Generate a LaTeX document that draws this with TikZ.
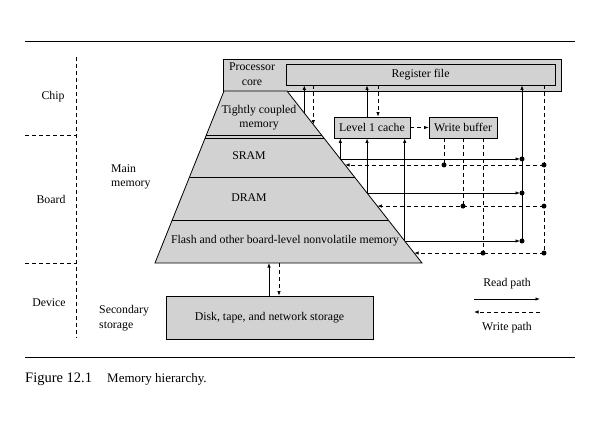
\documentclass[tikz,border=0pt]{standalone}
\usepackage{fontspec}
\setmainfont{Liberation Serif}
\usetikzlibrary{arrows.meta,calc}
\definecolor{boxgray}{RGB}{210,210,210}
\begin{document}
\begin{tikzpicture}[x=1pt,y=-1pt,
  txt/.style={font=\fontsize{11.8}{14.5}\selectfont,inner sep=0pt,align=center},
  box/.style={draw,fill=boxgray,line width=0.8pt,inner sep=0pt},
  rd/.style={line width=0.7pt,-{Latex[length=4.5pt,width=3.4pt]}},
  wr/.style={line width=0.7pt,dash pattern=on 4pt off 3pt,-{Latex[length=4.5pt,width=3.4pt]}},
  rline/.style={line width=0.7pt},
  wline/.style={line width=0.7pt,dash pattern=on 4pt off 3pt},
  dot/.style={circle,fill,inner sep=0pt,minimum size=5pt},
  rule/.style={line width=0.8pt},
  sep/.style={line width=0.6pt,dash pattern=on 4pt off 3pt}]
\useasboundingbox (0,0) rectangle (594,441);

% rules
\coordinate (rtl) at (25,41); \coordinate (rtr) at (575,41);
\coordinate (rbl) at (25,357); \coordinate (rbr) at (575,357);
\draw[rule] (rtl) -- (rtr);
\draw[rule] (rbl) -- (rbr);
\node[anchor=base west,inner sep=0pt,font=\fontsize{14.5}{16}\selectfont] (fig) at (25,382) {Figure 12.1};
\node[anchor=base west,inner sep=0pt,font=\fontsize{13}{15}\selectfont] (cap) at (107,382) {Memory hierarchy.};

% level separators
\coordinate (vt) at (76,57); \coordinate (vb) at (76,338);
\coordinate (h1l) at (25,135); \coordinate (h1r) at (76,135);
\coordinate (h2l) at (25,263); \coordinate (h2r) at (76,263);
\draw[sep] (vt) -- (vb);
\draw[sep] (h1l) -- (h1r);
\draw[sep] (h2l) -- (h2r);
\node[txt] (chip) at (53,97) {Chip};
\node[txt] (board) at (51,199) {Board};
\node[txt] (device) at (49,303) {Device};
\node[txt,anchor=west,align=left] (mainmem) at (111,177) {Main\\memory};
\node[txt,anchor=west,align=left] (secstor) at (99,318) {Secondary\\storage};

% processor core and register file
\node[box,minimum width=338pt,minimum height=32pt] (pc) at (392,75) {};
\node[txt] (pclab) at (252,74) {Processor\\core};
\node[box,minimum width=269pt,minimum height=21pt] (rf) at (420.5,74.5) {};
\node[txt] (rflab) at (rf) {Register file};

% pyramid
\coordinate (tl) at (224,91); \coordinate (tr) at (287,91);
\coordinate (bl) at (155,263); \coordinate (br) at (422,263);
\filldraw[fill=boxgray,line width=0.8pt] (tl) -- (tr) -- (br) -- (bl) -- cycle;
\foreach \t in {0.257,0.273,0.5,0.75}
  \draw[line width=0.8pt] ($(tl)!\t!(bl)$) -- ($(tr)!\t!(br)$);
\node[txt] (tcm) at (259,117.5) {Tightly coupled\\memory};
\node[txt] (sram) at (249,156) {SRAM};
\node[txt] (dram) at (249,198) {DRAM};
\node[txt] (flash) at (285,241) {Flash and other board-level nonvolatile memory};

% caches
\node[box,minimum width=76pt,minimum height=21pt] (l1) at (372,127.5) {};
\node[txt] (l1lab) at (l1) {Level 1 cache};
\node[box,minimum width=68pt,minimum height=21pt] (wb) at (463,127.5) {};
\node[txt] (wblab) at (wb) {Write buffer};

% secondary storage
\node[box,minimum width=207pt,minimum height=43pt] (disk) at (269.5,317.5) {};
\node[txt] (disklab) at (disk) {Disk, tape, and network storage};

% edge points on right side of pyramid
\coordinate (tcmr) at ($(tr)!0.128!(br)$);
\coordinate (tcmw) at ($(tr)!0.195!(br)$);
\coordinate (sr) at ($(tr)!0.395!(br)$);
\coordinate (sw) at ($(tr)!0.430!(br)$);
\coordinate (dr) at ($(tr)!0.593!(br)$);
\coordinate (dw) at ($(tr)!0.669!(br)$);
\coordinate (fr) at ($(tr)!0.872!(br)$);
\coordinate (fw) at ($(tr)!0.942!(br)$);
\coordinate (rbus) at (522,0);
\coordinate (wbus) at (544,0);
\coordinate (wb1) at (444,0);
\coordinate (wb2) at (463,0);
\coordinate (wb3) at (483,0);

% TCM <-> register file
\draw[rd] (tcmr) -- (tcmr |- rf.south);
\draw[wr] (tcmw |- rf.south) -- (tcmw);

% L1 <-> register file
\coordinate (l1u) at (367,0);
\coordinate (l1d) at (378,0);
\draw[rd] (l1u |- l1.north) -- (l1u |- rf.south);
\draw[wr] (l1d |- rf.south) -- (l1d |- l1.north);
\draw[wr] (l1.east) -- (wb.west);

% read paths
\draw[rd] (sr) -- (sr |- l1.south);
\draw[rd] (dr) -- (dr |- l1.south);
\draw[rd] (fr) -- (fr |- l1.south);
\draw[rd,shorten >=2pt] (sr) -- (sr -| rbus);
\draw[rd,shorten >=2pt] (dr) -- (dr -| rbus);
\draw[rd,shorten >=2pt] (fr) -- (fr -| rbus);
\draw[rd] (fr -| rbus) -- (rbus |- rf.south);
\node[dot] (d1) at (sr -| rbus) {};
\node[dot] (d2) at (dr -| rbus) {};
\node[dot] (d3) at (fr -| rbus) {};

% write paths
\draw[wline] (wbus |- rf.south) -- (fw -| wbus);
\draw[wr] (sw -| wbus) -- (sw);
\draw[wr] (dw -| wbus) -- (dw);
\draw[wr] (fw -| wbus) -- (fw);
\draw[wline] (wb1 |- wb.south) -- (sw -| wb1);
\draw[wline] (wb2 |- wb.south) -- (dw -| wb2);
\draw[wline] (wb3 |- wb.south) -- (fw -| wb3);
\node[dot] (e1) at (sw -| wbus) {};
\node[dot] (e2) at (dw -| wbus) {};
\node[dot] (e3) at (fw -| wbus) {};
\node[dot] (f1) at (sw -| wb1) {};
\node[dot] (f2) at (dw -| wb2) {};
\node[dot] (f3) at (fw -| wb3) {};

% flash <-> disk
\coordinate (fdu) at (269,263);
\coordinate (fdd) at (279,263);
\draw[rd] (fdu |- disk.north) -- (fdu);
\draw[wr] (fdd) -- (fdd |- disk.north);

% legend
\coordinate (la) at (474,299); \coordinate (lb) at (540,299);
\coordinate (lc) at (540,312); \coordinate (ld) at (474,312);
\draw[rd] (la) -- (lb);
\draw[wr] (lc) -- (ld);
\node[txt] (readlab) at (507,284) {Read path};
\node[txt] (writelab) at (507,328) {Write path};
\end{tikzpicture}
\end{document}
